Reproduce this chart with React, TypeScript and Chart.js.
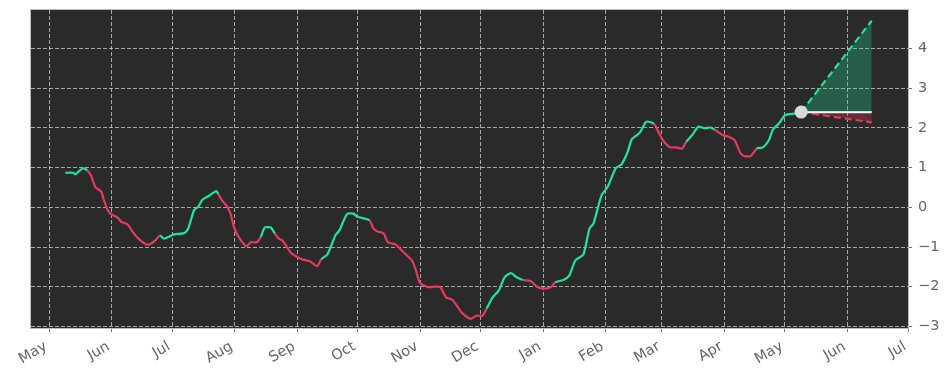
import React, { useEffect, useRef } from 'react';
import { Chart, registerables } from 'chart.js';

Chart.register(...registerables);

// Days counted from 2022-05-01
const START = Date.UTC(2022, 4, 1);
const DAY = 86400000;

const monthLabels = ['May', 'Jun', 'Jul', 'Aug', 'Sep', 'Oct', 'Nov', 'Dec', 'Jan', 'Feb', 'Mar', 'Apr', 'May', 'Jun', 'Jul'];
const yTickValues = [-3, -2, -1, 0, 1, 2, 3, 4];

const days = [
  8, 12, 13, 15, 17, 19, 21, 23, 26, 27, 29, 31, 34, 36, 39, 41, 44, 48, 50, 53,
  55, 57, 60, 62, 67, 69, 72, 74, 76, 79, 81, 83, 84, 86, 88, 90, 92, 95, 98, 100,
  103, 105, 107, 110, 112, 114, 116, 118, 120, 122, 125, 128, 130, 133, 135, 138, 140, 142, 144, 146,
  148, 151, 153, 157, 159, 161, 163, 166, 168, 172, 174, 177, 180, 182, 184, 188, 191, 194, 197, 200,
  205, 209, 212, 215, 217, 220, 223, 226, 229, 232, 235, 239, 242, 245, 249, 251, 255, 258, 261, 265,
  268, 270, 274, 277, 281, 284, 287, 289, 293, 296, 298, 300, 301, 303, 305, 308, 311, 314, 316, 319,
  322, 325, 328, 330, 334, 337, 340, 343, 345, 348, 351, 354, 357, 359, 362, 365, 368, 371,
];

const values = [
  0.87, 0.87, 0.83, 0.92, 0.98, 0.93, 0.78, 0.51, 0.39, 0.22, -0.06, -0.18, -0.26, -0.37, -0.43, -0.58, -0.77, -0.93, -0.93, -0.82,
  -0.71, -0.79, -0.73, -0.68, -0.65, -0.54, -0.06, 0.01, 0.19, 0.28, 0.35, 0.41, 0.33, 0.16, 0.05, -0.16, -0.54, -0.82, -0.98, -0.88,
  -0.88, -0.75, -0.51, -0.51, -0.66, -0.79, -0.85, -1.0, -1.15, -1.22, -1.3, -1.34, -1.38, -1.48, -1.31, -1.19, -0.96, -0.71, -0.58, -0.35,
  -0.16, -0.16, -0.24, -0.29, -0.33, -0.54, -0.61, -0.66, -0.88, -0.94, -1.04, -1.19, -1.34, -1.59, -1.91, -2.01, -2.0, -2.01, -2.27, -2.33,
  -2.67, -2.81, -2.73, -2.73, -2.55, -2.27, -2.1, -1.76, -1.66, -1.76, -1.83, -1.86, -2.0, -2.05, -2.01, -1.89, -1.83, -1.72, -1.34, -1.19,
  -0.54, -0.41, 0.3, 0.51, 0.98, 1.09, 1.4, 1.71, 1.88, 2.15, 2.15, 2.1, 2.03, 1.82, 1.65, 1.51, 1.51, 1.48, 1.65, 1.82,
  2.03, 1.99, 2.01, 1.96, 1.82, 1.78, 1.69, 1.36, 1.29, 1.29, 1.48, 1.51, 1.69, 1.96, 2.11, 2.32, 2.35, 2.37,
];

// 1 = segment arriving at this point drawn as rising (green), 0 = falling (red)
const rising = [
  1, 1, 1, 1, 1, 1, 0, 0, 0, 0, 0, 0, 0, 0, 0, 0, 0, 0, 0, 0,
  0, 1, 1, 1, 1, 1, 1, 1, 1, 1, 1, 1, 1, 0, 0, 0, 0, 0, 0, 0,
  0, 0, 1, 1, 1, 0, 0, 0, 0, 0, 0, 0, 0, 0, 0, 1, 1, 1, 1, 1,
  1, 1, 1, 1, 1, 0, 0, 0, 0, 0, 0, 0, 0, 0, 0, 0, 0, 0, 0, 0,
  0, 0, 0, 0, 0, 1, 1, 1, 1, 1, 1, 0, 0, 0, 0, 0, 1, 1, 1, 1,
  1, 1, 1, 1, 1, 1, 1, 1, 1, 1, 1, 1, 0, 0, 0, 0, 0, 0, 0, 1,
  1, 1, 1, 1, 0, 0, 0, 0, 0, 0, 0, 1, 1, 1, 1, 1, 1, 1,
];

const forecastDays = [373, 408];
const forecastUpper = [2.4, 4.7];
const forecastMid = [2.4, 2.4];
const forecastLower = [2.4, 2.14];
const lastDay = 373;
const lastValue = 2.4;

const GREEN = '#1fe59a';
const RED = '#e6395f';

const monthDays = monthLabels.map((_, i) => (Date.UTC(2022, 4 + i, 1) - START) / DAY);

export default function App() {
  const ref = useRef<HTMLCanvasElement | null>(null);

  useEffect(() => {
    document.body.style.margin = '0';
    if (!ref.current) return;

    const bgPlugin = {
      id: 'plotbg',
      beforeDraw(chart: any) {
        const { ctx, chartArea: a } = chart;
        ctx.save();
        ctx.fillStyle = '#2a2a2a';
        ctx.fillRect(a.left, a.top, a.right - a.left, a.bottom - a.top);
        ctx.restore();
      },
      afterDraw(chart: any) {
        const { ctx, chartArea: a } = chart;
        ctx.save();
        ctx.strokeStyle = '#bdbdbd';
        ctx.lineWidth = 1;
        ctx.strokeRect(a.left - 0.5, a.top - 0.5, a.right - a.left + 1, a.bottom - a.top + 1);
        ctx.restore();
      },
    };

    const toXY = (xs: number[], ys: number[]) => xs.map((x, i) => ({ x, y: ys[i] }));

    const gridOpts = {
      color: 'rgba(210,210,210,0.75)',
      lineWidth: 1,
      drawTicks: true,
      tickLength: 4,
      tickColor: '#777777',
      tickBorderDash: [],
    };

    const chart = new Chart(ref.current, {
      type: 'line',
      data: {
        datasets: [
          {
            label: 'last',
            data: [{ x: lastDay, y: lastValue }],
            showLine: false,
            pointRadius: 6.5,
            pointBackgroundColor: '#d9d9d9',
            pointBorderWidth: 0,
            order: 0,
          },
          {
            label: 'upper',
            data: toXY(forecastDays, forecastUpper),
            borderColor: GREEN,
            borderWidth: 2.2,
            borderDash: [7, 4],
            pointRadius: 0,
            fill: 2,
            backgroundColor: 'rgba(31,229,154,0.28)',
            order: 1,
          },
          {
            label: 'mid',
            data: toXY(forecastDays, forecastMid),
            borderColor: '#f2f2f2',
            borderWidth: 2.2,
            pointRadius: 0,
            fill: false,
            order: 1,
          },
          {
            label: 'lower',
            data: toXY(forecastDays, forecastLower),
            borderColor: RED,
            borderWidth: 2.2,
            borderDash: [7, 4],
            pointRadius: 0,
            fill: 2,
            backgroundColor: 'rgba(230,57,95,0.3)',
            order: 1,
          },
          {
            label: 'main',
            data: toXY(days, values),
            borderWidth: 2.2,
            pointRadius: 0,
            tension: 0.2,
            fill: false,
            borderColor: GREEN,
            segment: {
              borderColor: (c: any) => (rising[c.p1DataIndex] ? GREEN : RED),
            },
            order: 2,
          },
        ],
      },
      options: {
        animation: false,
        responsive: true,
        maintainAspectRatio: false,
        layout: { padding: { left: 31, top: 10, right: 0, bottom: 0 } },
        plugins: { legend: { display: false }, tooltip: { enabled: false } },
        scales: {
          x: {
            type: 'linear',
            min: -8.93,
            max: 426,
            afterBuildTicks: (s: any) => {
              s.ticks = monthDays.map((v) => ({ value: v }));
            },
            afterFit: (s: any) => {
              s.height = 53;
              s.paddingLeft = 0;
              s.paddingRight = 0;
            },
            ticks: {
              autoSkip: false,
              minRotation: 30,
              maxRotation: 30,
              color: '#666666',
              font: { family: 'DejaVu Sans', size: 14.5 },
              padding: 6,
              labelOffset: -3,
              callback: (_v: any, i: number) => monthLabels[i],
            },
            grid: gridOpts,
            border: { display: false, dash: [4, 2] },
          },
          y: {
            type: 'linear',
            position: 'right',
            min: -3.04,
            max: 4.97,
            afterBuildTicks: (s: any) => {
              s.ticks = yTickValues.map((v) => ({ value: v }));
            },
            afterFit: (s: any) => {
              s.width = 44;
              s.paddingTop = 0;
              s.paddingBottom = 0;
            },
            ticks: {
              color: '#666666',
              font: { family: 'DejaVu Sans', size: 14.5 },
              padding: 6,
              callback: (v: any) => (v < 0 ? '\u2212' + Math.abs(v) : String(v)),
            },
            grid: gridOpts,
            border: { display: false, dash: [4, 2] },
          },
        },
      },
      plugins: [bgPlugin],
    } as any);

    return () => chart.destroy();
  }, []);

  return (
    <div style={{ width: 952, height: 381, position: 'relative' }}>
      <canvas ref={ref} />
    </div>
  );
}
